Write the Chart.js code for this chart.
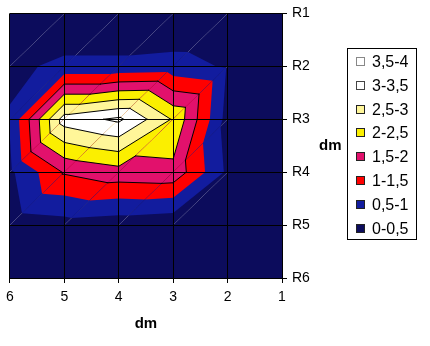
<!DOCTYPE html>
<html>
<head>
<meta charset="utf-8">
<script src="https://cdn.jsdelivr.net/npm/chart.js@4.4.1/dist/chart.umd.min.js"></script>
<style>
  html, body { margin: 0; padding: 0; background: #fff; }
  #wrap { position: relative; width: 430px; height: 346px; font-family: 'Liberation Sans', Arial, sans-serif; color: #000; }
  #wrap canvas { position: absolute; left: 0; top: 0; }
  #yTitle { position: absolute; left: 319px; top: 136px; font-weight: bold; font-size: 15px; }
  #legend { position: absolute; left: 347px; top: 48px; width: 70px; height: 192px; border: 1px solid #000; box-sizing: border-box; }
  .item { position: absolute; left: 0; height: 20px; line-height: 20px; font-size: 16px; white-space: nowrap; }
  .swatch { position: absolute; left: 8px; top: 5px; width: 7px; height: 7px; border: 1px solid #222; }
  .txt { position: absolute; left: 24px; top: 0; }
</style>
</head>
<body>
<div id="wrap">
  <canvas id="chart" width="430" height="346"></canvas>
  <div id="yTitle">dm</div>
  <div id="legend"></div>
</div>
<script>
// axis categories
const xVals = [6, 5, 4, 3, 2, 1];
const yLabels = ['R1', 'R2', 'R3', 'R4', 'R5', 'R6'];

// measured values per row, listed for dm = 6 .. 1
const rowR1 = [0.02, 0.03, 0.03, 0.03, 0.02, 0.01];
const rowR2 = [0.37, 0.62, 0.62, 0.68, 0.45, 0.05];
const rowR3 = [0.55, 3.24, 3.60, 2.45, 0.30, 0.04];
const rowR4 = [0.40, 1.55, 1.80, 1.85, 0.40, 0.03];
const rowR5 = [0.20, 0.30, 0.20, 0.10, 0.05, 0.02];
const rowR6 = [0.05, 0.04, 0.04, 0.03, 0.02, 0.01];
const grid = [rowR1, rowR2, rowR3, rowR4, rowR5, rowR6];

// bands, lowest first
const bandEdges = [0, 0.5, 1, 1.5, 2, 2.5, 3, 3.5, 4];
const bandLabels = ['0-0,5', '0,5-1', '1-1,5', '1,5-2', '2-2,5', '2,5-3', '3-3,5', '3,5-4'];
const bandColors = ['#0c0c5c', '#121c9e', '#ff0000', '#e2116c', '#fbef00', '#fff699', '#ffffff', '#ffffff'];
const swatchBorders = ['#222', '#222', '#222', '#222', '#222', '#222', '#444', '#888'];
const lineLevels = [1.5, 2, 2.5, 3, 3.5];

// keep the part of a polygon where value >= level (linear along edges)
function clipAbove(poly, level) {
    const out = [];
    for (let i = 0; i < poly.length; i++) {
        const a = poly[i];
        const b = poly[(i + 1) % poly.length];
        const aIn = a.v >= level;
        const bIn = b.v >= level;
        if (aIn) out.push(a);
        if (aIn !== bIn) {
            const t = (level - a.v) / (b.v - a.v);
            out.push({ x: a.x + t * (b.x - a.x), y: a.y + t * (b.y - a.y), v: level });
        }
    }
    return out;
}

function crossing(tri, level) {
    const pts = [];
    for (let i = 0; i < 3; i++) {
        const a = tri[i];
        const b = tri[(i + 1) % 3];
        if ((a.v - level) * (b.v - level) < 0) {
            const t = (level - a.v) / (b.v - a.v);
            pts.push({ x: a.x + t * (b.x - a.x), y: a.y + t * (b.y - a.y) });
        }
    }
    return pts;
}

const contourPlugin = {
    id: 'contourBands',
    beforeDatasetsDraw(chart) {
        const { ctx, chartArea, scales } = chart;
        const px = xVals.map(v => scales.x.getPixelForValue(v));
        const py = yLabels.map((_, i) => scales.y.getPixelForValue(i));
        const node = (r, c) => ({ x: px[c], y: py[r], v: grid[r][c] });

        const fillPoly = (poly, color) => {
            ctx.beginPath();
            ctx.moveTo(poly[0].x, poly[0].y);
            for (let i = 1; i < poly.length; i++) ctx.lineTo(poly[i].x, poly[i].y);
            ctx.closePath();
            ctx.fillStyle = color;
            ctx.fill();
        };

        ctx.save();
        ctx.beginPath();
        ctx.rect(chartArea.left, chartArea.top, chartArea.width, chartArea.height);
        ctx.clip();

        const triangles = [];
        for (let r = 0; r < grid.length - 1; r++) {
            for (let c = 0; c < xVals.length - 1; c++) {
                const tl = node(r, c), tr = node(r, c + 1);
                const bl = node(r + 1, c), br = node(r + 1, c + 1);
                const peak = Math.max(tl.v, tr.v, bl.v, br.v);
                if (peak < bandEdges[1]) {
                    fillPoly([tl, tr, br, bl], bandColors[0]);
                    continue;
                }
                // each cell is split along the bottom-left / top-right diagonal
                [[tl, tr, bl], [tr, br, bl]].forEach(tri => {
                    triangles.push(tri);
                    bandColors.forEach((color, k) => {
                        const poly = k === 0 ? tri : clipAbove(tri, bandEdges[k]);
                        if (poly.length >= 3) fillPoly(poly, color);
                    });
                });
            }
        }

        ctx.strokeStyle = '#000';
        ctx.lineWidth = 1;
        ctx.lineCap = 'round';
        triangles.forEach(tri => {
            lineLevels.forEach(level => {
                const seg = crossing(tri, level);
                if (seg.length === 2) {
                    ctx.beginPath();
                    ctx.moveTo(seg[0].x, seg[0].y);
                    ctx.lineTo(seg[1].x, seg[1].y);
                    ctx.stroke();
                }
            });
        });
        ctx.restore();
    }
};

const axisFont = { family: "'Liberation Sans', Arial, sans-serif", size: 14 };

new Chart(document.getElementById('chart'), {
    type: 'scatter',
    data: { datasets: [] },
    options: {
        responsive: false,
        animation: false,
        devicePixelRatio: 1,
        layout: { padding: { left: 7, top: 11, right: 108, bottom: 0 } },
        plugins: { legend: { display: false }, tooltip: { enabled: false } },
        scales: {
            x: {
                type: 'linear',
                position: 'bottom',
                min: 1,
                max: 6,
                reverse: true,
                ticks: { stepSize: 1, color: '#000', padding: 6, font: axisFont },
                grid: { color: '#000', tickColor: '#000', tickLength: 5, z: 1 },
                border: { color: '#000', z: 1 },
                title: {
                    display: true,
                    text: 'dm',
                    color: '#000',
                    font: { family: axisFont.family, size: 15, weight: 'bold' },
                    padding: { top: 0, bottom: 13 }
                },
                afterFit: scale => { scale.height = 68; }
            },
            y: {
                type: 'category',
                labels: yLabels,
                position: 'right',
                offset: false,
                ticks: { color: '#000', padding: 5, font: axisFont },
                grid: { color: '#000', tickColor: '#000', tickLength: 5, z: 1 },
                border: { color: '#000', z: 1 },
                afterFit: scale => { scale.width = 40; }
            }
        }
    },
    plugins: [contourPlugin]
});

// legend, highest band on top
const legend = document.getElementById('legend');
bandLabels.slice().reverse().forEach((label, i) => {
    const k = bandLabels.length - 1 - i;
    const item = document.createElement('div');
    item.className = 'item';
    item.style.top = (3 + i * 23.8) + 'px';
    const sw = document.createElement('div');
    sw.className = 'swatch';
    sw.style.background = bandColors[k];
    sw.style.borderColor = swatchBorders[k];
    const txt = document.createElement('span');
    txt.className = 'txt';
    txt.textContent = label;
    item.appendChild(sw);
    item.appendChild(txt);
    legend.appendChild(item);
});
</script>
</body>
</html>
